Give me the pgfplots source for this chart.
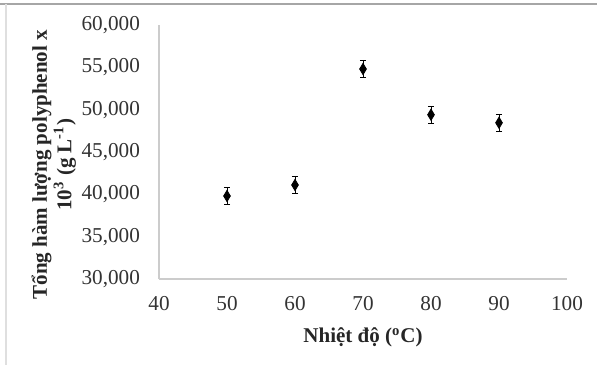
\documentclass[border=0pt]{standalone}
\usepackage{fontspec}
\setmainfont{Liberation Serif}
\usepackage{pgfplots}
\pgfplotsset{compat=1.18}
\begin{document}
\begin{tikzpicture}
\pgfplotstableread{
x y e
50 39800 1000
60 41100 1000
70 54800 1000
80 49400 1000
90 48450 1000
}\datatable
% bounding box and frame (units pt, 1px = 0.5pt)
\useasboundingbox (-79.5pt,-43pt) rectangle (219pt,139.5pt);
\draw[gray!70, line width=0.8pt] (-79.5pt,137.5pt) -- (219pt,137.5pt);
\draw[gray!25, line width=0.6pt] (-76.5pt,137.5pt) -- (-76.5pt,-43pt);
\begin{axis}[
  at={(0pt,0pt)}, anchor=south west,
  scale only axis,
  width=204pt, height=127pt,
  xmin=40, xmax=100, ymin=30000, ymax=60000,
  xtick={40,50,...,100},
  ytick={30000,35000,...,60000},
  axis x line*=bottom, axis y line*=left,
  axis line style={gray!40, line width=0.6pt, -},
  major tick length=0pt,
  tick style={draw=none},
  scaled y ticks=false,
  yticklabel={\pgfmathprintnumber[assume math mode=true,1000 sep={,}]{\tick}},
  xticklabel={\pgfmathprintnumber[assume math mode=true]{\tick}},
  ticklabel style={font=\fontsize{10.6}{12}\selectfont, text=black!80},
  xticklabel style={yshift=-5pt},
  yticklabel style={xshift=-6pt},
  xlabel={\textbf{Nhiệt độ (\textsuperscript{o}C)}},
  xlabel style={font=\fontsize{10.5}{12}\selectfont, text=black!85, at={(axis description cs:0.5,0)}, anchor=north, yshift=-21pt},
  ylabel={\textbf{Tổng hàm lượng polyphenol x}\\\textbf{10\textsuperscript{3} (g L\textsuperscript{-1})}},
  ylabel style={font=\fontsize{10.5}{12.2}\selectfont, align=center, text=black!85, at={(axis description cs:0,0.45)}, anchor=south, yshift=38pt},
  clip=false,
]
\addplot[only marks, mark=diamond*, mark size=2.8pt, black,
  mark options={xscale=0.8, fill=black},
  error bars/.cd, y dir=both, y explicit,
  error bar style={black, line width=0.5pt},
  error mark options={rotate=90, mark size=1.6pt, black, line width=0.5pt}]
  table[x=x, y=y, y error=e] {\datatable};
\end{axis}
\end{tikzpicture}
\end{document}
